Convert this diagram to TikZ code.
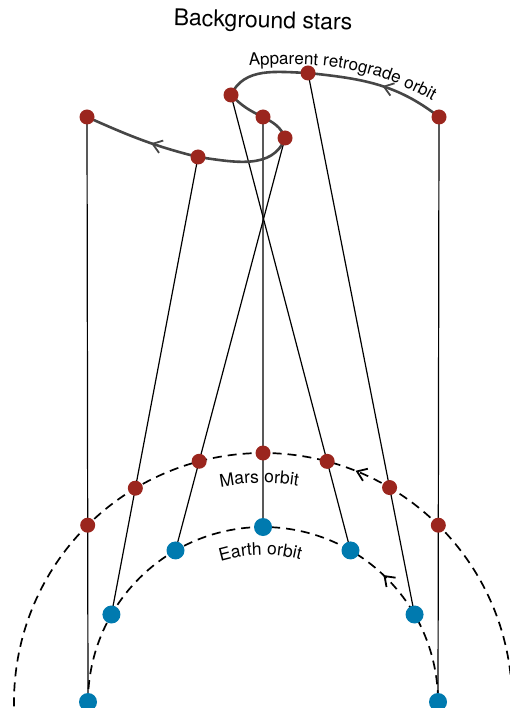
\documentclass[tikz,border=0pt]{standalone}
\usepackage{fontspec}
\setmainfont{TeX Gyre Heros}
\usetikzlibrary{arrows.meta,decorations.markings,decorations.text,intersections,calc,backgrounds}
\definecolor{marsred}{RGB}{155,38,30}
\definecolor{earthblue}{RGB}{0,122,175}
\definecolor{curvegray}{RGB}{70,70,70}
\begin{document}
\begin{tikzpicture}[x=1pt,y=1pt,
  marsdot/.style={circle,fill=marsred,inner sep=0pt,minimum size=15pt},
  earthdot/.style={circle,fill=earthblue,inner sep=0pt,minimum size=18pt},
  stardot/.style={marsdot},
  sight/.style={black,line width=1.2pt},
  orbitline/.style={black,line width=1.7pt,dash pattern=on 9pt off 6pt},
  retro/.style={curvegray,line width=2.6pt},
  chevron/.style 2 args={postaction={decorate},decoration={markings,mark=at position #1 with {\draw[solid,#2,line width=1.8pt,line join=miter] (-9pt,6.5pt) -- (0,0) -- (-9pt,-6.5pt);}}}
]
\useasboundingbox (0,0) rectangle (509,-708);
\clip (0,0) rectangle (509,-708);
\coordinate (O) at (263,-702);

% Earth positions
\foreach \i/\a in {1/180,2/150,3/120,4/90,5/60,6/30,7/0}
  \node[earthdot] (E\i) at ($(O)+(\a:175)$) {};

% Background star positions
\node[stardot] (S1) at (87,-117) {};
\node[stardot] (S2) at (198,-157) {};
\node[stardot] (S3) at (285,-138) {};
\node[stardot] (S4) at (263,-117) {};
\node[stardot] (S5) at (231,-95) {};
\node[stardot] (S6) at (308,-73) {};
\node[stardot] (S7) at (439,-117) {};

% Mars positions: where the sight lines cross the Mars orbit
\path[name path=marsorbit] (O) circle[radius=249];
\foreach \i in {1,...,7}{
  \path[name path=l\i] (E\i.center) -- (S\i.center);
  \path[name intersections={of=marsorbit and l\i, by={X\i}}];
  \node[marsdot] (M\i) at (X\i) {};
}

\begin{scope}[on background layer]
  % orbits
  \draw[orbitline,chevron={0.382}{black}] (O) ++(-4:249) arc[start angle=-4,end angle=184,radius=249];
  \draw[orbitline,chevron={0.266}{black}] (O) ++(-4:175) arc[start angle=-4,end angle=184,radius=175];
  % sight lines
  \foreach \i in {1,...,7}
    \draw[sight] (E\i.center) -- (M\i.center) -- (S\i.center);
  % apparent retrograde path
  \draw[retro] (S7.center) to[out=142,in=-6] (S6.center)
    to[out=178,in=65] (S5.center)
    to[out=-45,in=155] (S4.center)
    to[out=-28,in=110] (S3.center)
    to[out=-110,in=-8] (S2.center)
    to[out=166,in=-24] (S1.center);
  \path[chevron={0.45}{curvegray}] (S7.center) to[out=142,in=-6] (S6.center);
  \path[chevron={0.4}{curvegray}] (S2.center) to[out=166,in=-24] (S1.center);
\end{scope}

% labels
\node[font=\fontsize{23}{26}\selectfont,rotate=-1.5] (title) at (263,-22) {Background stars};
\path[decorate,decoration={text along path,
  text={|\fontsize{17}{20}\selectfont|Apparent retrograde orbit}}]
  (249,-66) to[out=4,in=150] (442,-106);
\path[decorate,decoration={text along path,text align=center,
  text={|\fontsize{17.5}{20}\selectfont|Mars orbit}}]
  (O) ++(113:219) arc[start angle=113,end angle=69,radius=219];
\path[decorate,decoration={text along path,text align=center,
  text={|\fontsize{17.5}{20}\selectfont|Earth orbit}}]
  (O) ++(122:147) arc[start angle=122,end angle=60,radius=147];
\end{tikzpicture}
\end{document}
